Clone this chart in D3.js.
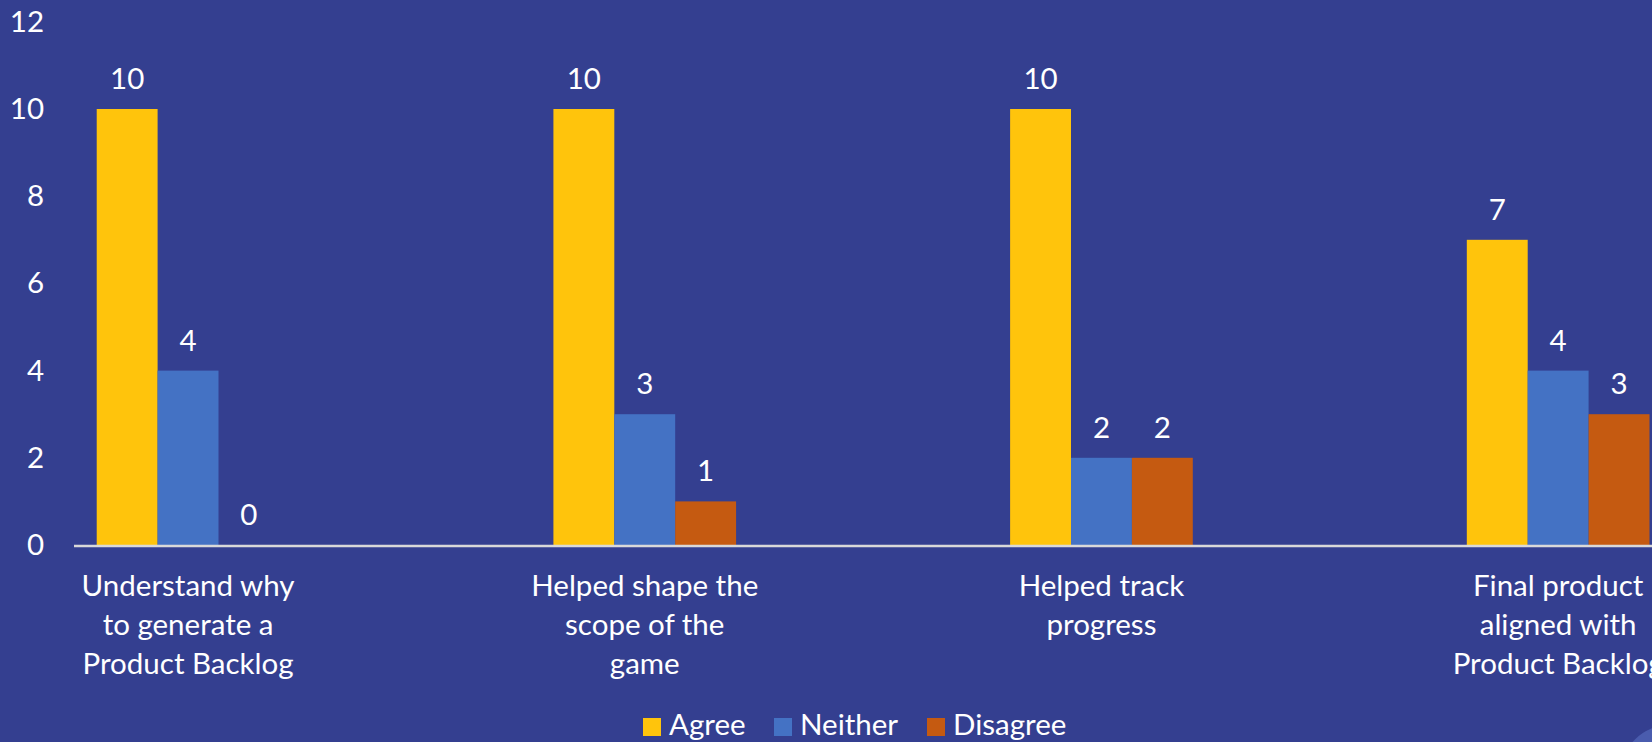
<!DOCTYPE html>
<html>
<head>
<meta charset="utf-8">
<script src="https://cdn.jsdelivr.net/npm/d3@7"></script>
<style>
  html, body { margin: 0; padding: 0; background: #343f90; overflow: hidden; }
  text { font-family: Lato, "Open Sans", sans-serif; fill: #ffffff; }
</style>
</head>
<body>
<div id="chart"></div>
<script>
// Chart values
const categories = [
    "Understand why to generate a Product Backlog",
    "Helped shape the scope of the game",
    "Helped track progress",
    "Final product aligned with Product Backlog"
];
const categoryLines = [
    ["Understand why", "to generate a", "Product Backlog"],
    ["Helped shape the", "scope of the", "game"],
    ["Helped track", "progress"],
    ["Final product", "aligned with", "Product Backlog"]
];
const seriesNames = ["Agree", "Neither", "Disagree"];
const agree = [10, 10, 10, 7];
const neither = [4, 3, 2, 4];
const disagree = [0, 1, 2, 3];
const yTicks = [0, 2, 4, 6, 8, 10, 12];

const W = 1652, H = 742;
const colors = { Agree: "#ffc40c", Neither: "#4472c4", Disagree: "#c55a11" };
const fontSize = "29.5px";

const svg = d3.select("#chart").append("svg")
    .attr("width", W)
    .attr("height", H);

// Scales: the plot runs off the right edge like the slide does
const axisLeftX = 74;
const x = d3.scaleBand()
    .domain(categories)
    .range([-40.3, 1786.5])
    .paddingInner(0.6)
    .paddingOuter(0.3);

const x1 = d3.scaleBand()
    .domain(seriesNames)
    .range([0, x.bandwidth()]);

const y = d3.scaleLinear()
    .domain([0, 12])
    .range([545, 21.8]);

// Y axis (labels only)
const yAxis = svg.append("g")
    .attr("transform", `translate(${axisLeftX},0)`)
    .call(d3.axisLeft(y).tickValues(yTicks).tickSize(0).tickPadding(30));
yAxis.select(".domain").remove();
yAxis.selectAll(".tick text")
    .style("font-family", "Lato, 'Open Sans', sans-serif")
    .style("font-size", fontSize)
    .style("fill", "#ffffff");

// Bars
const rows = categories.map((c, i) => ({
    cat: c,
    values: [
        { key: "Agree", value: agree[i] },
        { key: "Neither", value: neither[i] },
        { key: "Disagree", value: disagree[i] }
    ]
}));

const groups = svg.selectAll(".group")
    .data(rows)
    .enter().append("g")
    .attr("class", "group")
    .attr("transform", d => `translate(${x(d.cat)},0)`);

groups.selectAll("rect")
    .data(d => d.values)
    .enter().append("rect")
    .attr("x", d => x1(d.key))
    .attr("y", d => y(d.value))
    .attr("width", x1.bandwidth())
    .attr("height", d => y(0) - y(d.value))
    .attr("fill", d => colors[d.key]);

// Value labels
groups.selectAll(".val")
    .data(d => d.values)
    .enter().append("text")
    .attr("class", "val")
    .attr("x", d => x1(d.key) + x1.bandwidth() / 2)
    .attr("y", d => y(d.value) - 20)
    .attr("text-anchor", "middle")
    .style("font-size", fontSize)
    .text(d => d.value);

// X axis line
svg.append("line")
    .attr("x1", axisLeftX)
    .attr("x2", W)
    .attr("y1", y(0) + 1)
    .attr("y2", y(0) + 1)
    .attr("stroke", "#d9d9d9")
    .attr("stroke-width", 2.5);

// Category labels
categories.forEach((c, i) => {
    const cx = x(c) + x.bandwidth() / 2;
    const t = svg.append("text")
        .attr("x", cx)
        .attr("y", 596)
        .attr("text-anchor", "middle")
        .style("font-size", fontSize);
    categoryLines[i].forEach((line, j) => {
        t.append("tspan")
            .attr("x", cx)
            .attr("y", 596 + j * 39)
            .text(line);
    });
});

// Legend
const legendX = [643, 774, 927];
const legend = svg.append("g");
seriesNames.forEach((name, i) => {
    legend.append("rect")
        .attr("x", legendX[i])
        .attr("y", 718)
        .attr("width", 18)
        .attr("height", 18)
        .attr("fill", colors[name]);
    legend.append("text")
        .attr("x", legendX[i] + 26)
        .attr("y", 735)
        .style("font-size", fontSize)
        .text(name);
});

// Slide decoration peeking in at the bottom right
svg.append("circle")
    .attr("cx", 1670)
    .attr("cy", 775)
    .attr("r", 50)
    .attr("fill", "#4a5cae");
</script>
</body>
</html>
